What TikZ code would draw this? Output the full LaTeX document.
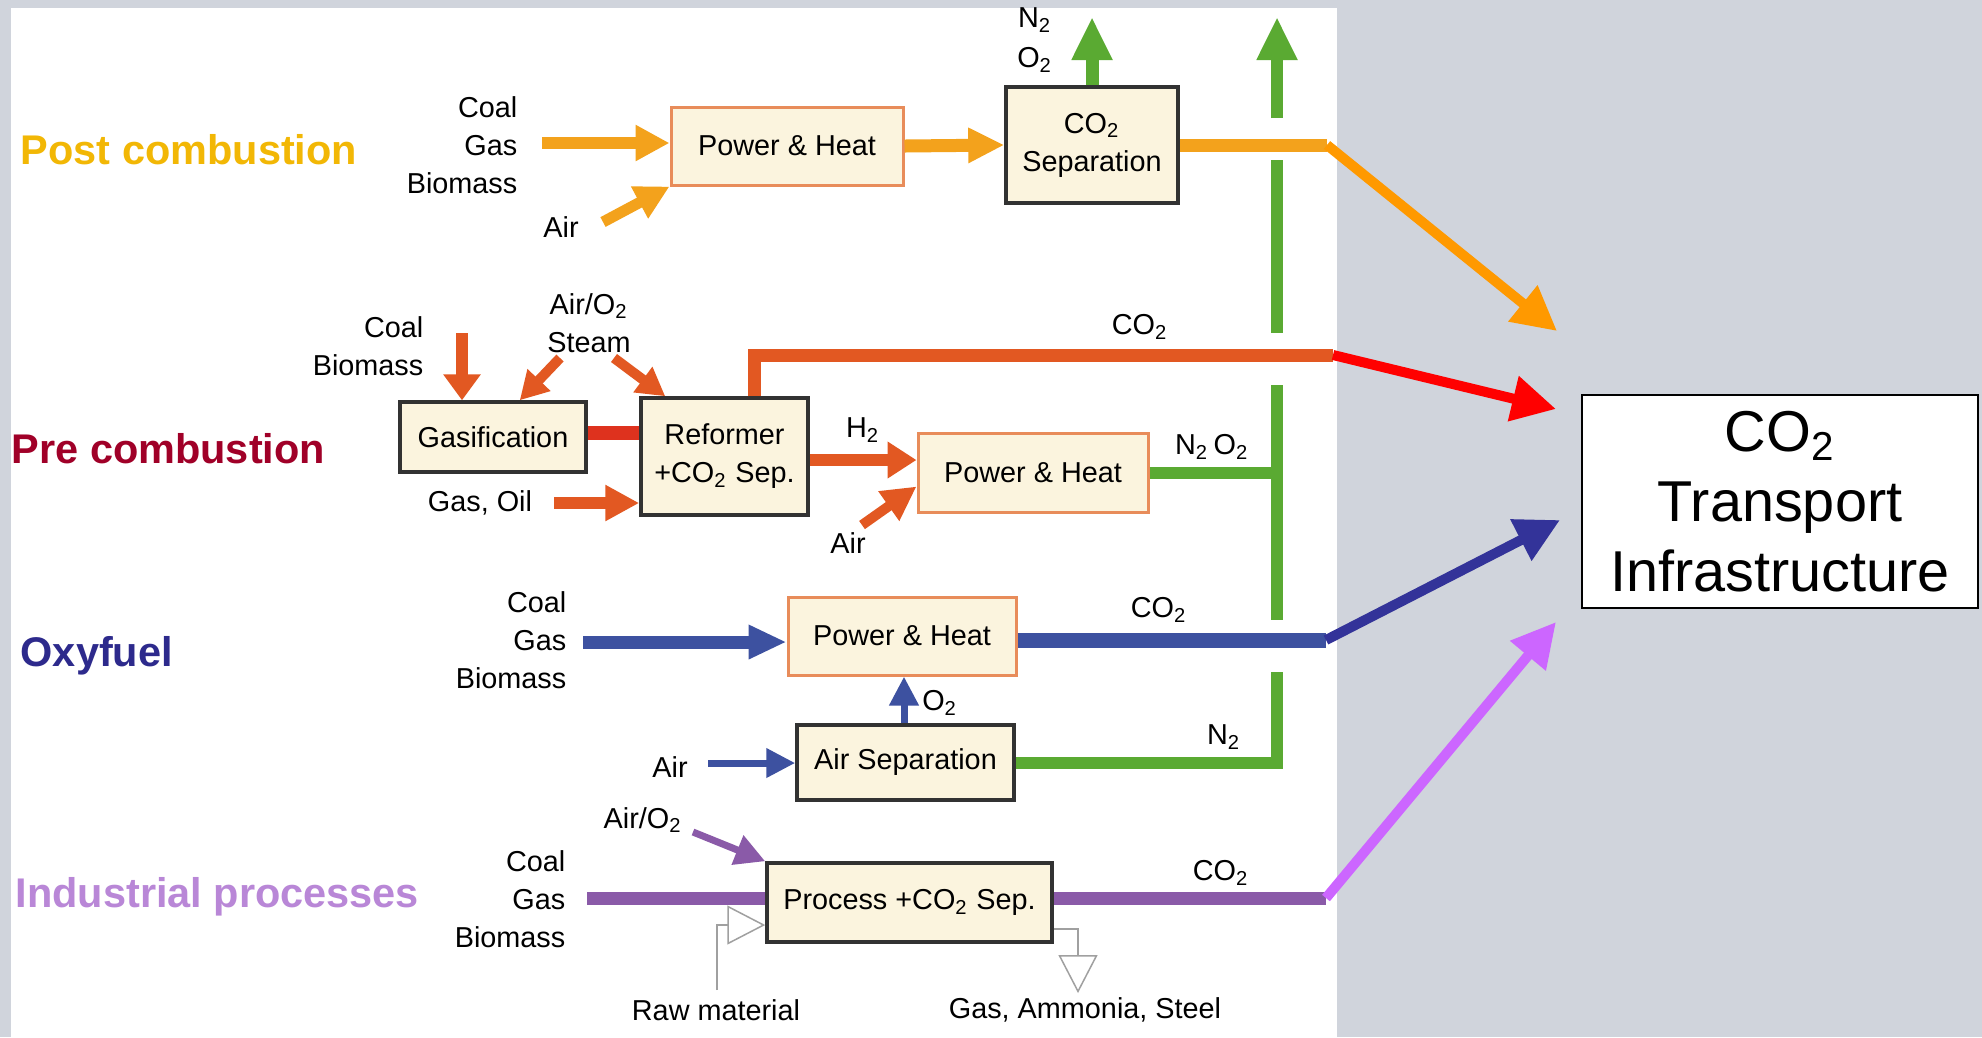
\documentclass[tikz,border=0pt]{standalone}
\usepackage{fontspec}
\setmainfont{Liberation Sans}
\usepackage{tikz}
\usetikzlibrary{arrows.meta,positioning,calc}

\definecolor{bggray}{RGB}{208,212,220}
\definecolor{boxfill}{RGB}{251,244,222}
\definecolor{boxorange}{RGB}{232,140,90}
\definecolor{boxdark}{RGB}{50,50,50}
\definecolor{postorg}{RGB}{243,162,28}
\definecolor{diagorange}{RGB}{255,153,0}
\definecolor{prered}{RGB}{226,88,34}
\definecolor{barred}{RGB}{222,50,30}
\definecolor{diagred}{RGB}{255,0,0}
\definecolor{oxyblue}{RGB}{61,81,160}
\definecolor{diagblue}{RGB}{51,51,153}
\definecolor{indpurple}{RGB}{138,90,168}
\definecolor{diagviolet}{RGB}{204,102,255}
\definecolor{gasgreen}{RGB}{90,170,50}
\definecolor{pipegray}{RGB}{160,160,160}
\definecolor{postlab}{RGB}{242,183,5}
\definecolor{prelab}{RGB}{160,0,40}
\definecolor{oxylab}{RGB}{45,42,140}
\definecolor{indlab}{RGB}{185,135,215}

\begin{document}
\begin{tikzpicture}[
    x=0.1mm, y=-0.1mm,
    pbox/.style={rectangle, draw=boxorange, fill=boxfill, line width=0.3mm,
                 inner sep=0pt, align=center,
                 font=\fontsize{8.2}{10.8}\selectfont},
    sbox/.style={rectangle, draw=boxdark, fill=boxfill, line width=0.35mm,
                 inner sep=0pt, align=center,
                 font=\fontsize{8.2}{10.8}\selectfont},
    lab/.style={inner sep=0pt, align=center,
                font=\fontsize{8.2}{10.8}\selectfont},
    cat/.style={anchor=west, inner sep=0pt,
                font=\fontsize{11.8}{14}\selectfont\bfseries},
    arr/.style={line width=1.2mm, -{Triangle[length=3.4mm, width=3.4mm]}},
    slim/.style={line width=0.7mm, -{Triangle[length=2.9mm, width=2.8mm]}},
    diag/.style={line width=1.0mm, -{Triangle[length=4.4mm, width=4.4mm]}},
    pipe/.style={line width=1.3mm},
    gline/.style={draw=gasgreen, line width=1.2mm},
    vent/.style={-{Triangle[length=4.3mm, width=3.8mm]}},
    hollow/.style={draw=pipegray, line width=0.15mm,
                   -{Triangle[open, length=3.8mm, width=3.9mm]}}
  ]
  \useasboundingbox (0,0) rectangle (1982,1037);
  \fill[bggray] (0,0) rectangle (1982,1037);
  \fill[white] (11,8) rectangle (1337,1037);

  \node[cat, text=postlab] (post) at (20,150) {Post combustion};
  \node[cat, text=prelab] (pre) at (11,449) {Pre combustion};
  \node[cat, text=oxylab] (oxy) at (20,656) {Oxyfuel};
  \node[cat, text=indlab] (ind) at (15,897) {Industrial processes};

  \node[pbox, minimum width=23.2mm, minimum height=7.8mm] (ph1) at (787,146) {Power \& Heat};
  \node[sbox, minimum width=17.2mm, minimum height=11.6mm] (cosep) at (1092,145) {CO\textsubscript{2}\\Separation};
  \node[sbox, minimum width=18.6mm, minimum height=7mm] (gasif) at (493,437) {Gasification};
  \node[sbox, minimum width=16.7mm, minimum height=11.7mm] (reform) at (724.5,456.5) {Reformer\\+CO\textsubscript{2} Sep.};
  \node[pbox, minimum width=23mm, minimum height=7.9mm] (ph2) at (1033,472.5) {Power \& Heat};
  \node[pbox, minimum width=22.8mm, minimum height=7.8mm] (ph3) at (902,636) {Power \& Heat};
  \node[sbox, minimum width=21.7mm, minimum height=7.5mm] (airsep) at (905.5,762.5) {Air Separation};
  \node[sbox, minimum width=28.5mm, minimum height=7.9mm] (proc) at (909.5,902.5) {Process +CO\textsubscript{2} Sep.};
  \node[draw=black, fill=white, line width=0.2mm, minimum width=39.6mm, minimum height=21.3mm,
        inner sep=0pt, align=center, font=\fontsize{16.4}{19.9}\selectfont]
        (trans) at (1780,501.5) {CO\textsubscript{2}\\Transport\\Infrastructure};

  \node[lab, align=right, anchor=east] (fuel1) at (518,145) {Coal\\Gas\\Biomass};
  \node[lab] (airlab1) at (561,227) {Air};
  \node[lab, font=\fontsize{8.2}{11.4}\selectfont] (ventlab) at (1035,40) {N\textsubscript{2}\\O\textsubscript{2}};

  \node[lab, align=right, anchor=east] (fuel2) at (424,346) {Coal\\Biomass};
  \node[lab] (steamlab) at (589,323) {Air/O\textsubscript{2}\\Steam};
  \node[lab] (oillab) at (480,503) {Gas, Oil};
  \node[lab] (co2lab2) at (1140,327) {CO\textsubscript{2}};
  \node[lab] (h2lab) at (863,430) {H\textsubscript{2}};
  \node[lab] (airlab2) at (848,543) {Air};
  \node[lab] (noxlab) at (1212,447) {N\textsubscript{2}\,O\textsubscript{2}};

  \node[lab, align=right, anchor=east] (fuel3) at (567,640) {Coal\\Gas\\Biomass};
  \node[lab] (co2lab3) at (1159,610) {CO\textsubscript{2}};
  \node[lab] (o2lab) at (940,703) {O\textsubscript{2}};
  \node[lab] (airlab3) at (670,767) {Air};
  \node[lab] (n2lab) at (1224,737) {N\textsubscript{2}};

  \node[lab, align=right, anchor=east] (fuel4) at (566,899) {Coal\\Gas\\Biomass};
  \node[lab] (co2lab4) at (1221,873) {CO\textsubscript{2}};
  \node[lab] (oxlab4) at (643,820) {Air/O\textsubscript{2}};
  \node[lab] (rawlab) at (716,1010) {Raw material};
  \node[lab] (prodlab) at (1085,1010) {Gas, Ammonia, Steel};

  \coordinate (in1) at (542,143);
  \coordinate (air1) at (603,222);
  \coordinate (ventA) at (1092,17);
  \coordinate (k1) at (1327,145);
  \coordinate (t1) at (1557,331);
  \coordinate (cbin) at (462,333);
  \coordinate (st1) at (560,358);
  \coordinate (st2) at (614,358);
  \coordinate (oilin) at (554,503);
  \coordinate (k2) at (1333,355);
  \coordinate (t2) at (1556,409);
  \coordinate (air2) at (862,525);
  \coordinate (in3) at (583,642);
  \coordinate (k3) at (1326,640);
  \coordinate (t3) at (1560,520);
  \coordinate (air3) at (708,763);
  \coordinate (o2x) at (904,700);
  \coordinate (in4) at (587,898);
  \coordinate (k4) at (1326,898);
  \coordinate (t4) at (1556,622);
  \coordinate (air4) at (693,832);
  \coordinate (rawin) at (717,990);
  \coordinate (rawjoin) at (717,925);
  \coordinate (outtip) at (1078,993);
  \coordinate (g0) at (1277,17);
  \coordinate (g1) at (1277,118);
  \coordinate (g2) at (1277,160);
  \coordinate (g3) at (1277,333);
  \coordinate (g4) at (1277,385);
  \coordinate (g5) at (1277,620);
  \coordinate (g6) at (1277,672);

  \draw[gline, vent] (g1) -- (g0);
  \draw[gline] (g2) -- (g3);
  \draw[gline] (g4) -- (g5);
  \draw[gline] (airsep.east) -| (g6);
  \draw[gline] (ph2.east) -- (ph2.east -| g4);
  \draw[gline, line width=1.3mm, vent] (cosep.north) -- (ventA);

  \draw[arr, postorg] (in1) -- (in1 -| ph1.west);
  \draw[arr, postorg, line width=1.1mm] (air1) -- (ph1.south west);
  \draw[arr, postorg, line width=1.3mm, -{Triangle[length=3.6mm, width=3.3mm]}] (ph1.east) -- (cosep.west);
  \draw[pipe, postorg] (cosep.east) -- (k1);
  \draw[diag, diagorange] (k1) -- (t1);

  \draw[arr, prered, -{Triangle[length=2.6mm, width=3.6mm]}] (cbin) -- (cbin |- gasif.north);
  \draw[arr, prered, line width=1.0mm, -{Triangle[length=2.8mm, width=3mm]}] (st1) -- ($(gasif.north east)+(-68,0)$);
  \draw[arr, prered, line width=1.0mm, -{Triangle[length=2.8mm, width=3mm]}] (st2) -- ($(reform.north west)+(26,0)$);
  \draw[barred, line width=1.4mm] (gasif.east |- 0,433) -- (reform.west |- 0,433);
  \draw[arr, prered] (oilin) -- (oilin -| reform.west);
  \draw[pipe, prered] ($(reform.north)+(30,0)$) |- (k2);
  \draw[diag, diagred] (k2) -- (t2);
  \draw[arr, prered, -{Triangle[length=2.9mm, width=3.5mm]}] (reform.east |- 0,460) -- (ph2.west |- 0,460);
  \draw[arr, prered, line width=1.0mm] (air2) -- ($(ph2.south west)+(0,-27)$);

  \draw[arr, oxyblue, line width=1.3mm, -{Triangle[length=3.8mm, width=3.2mm]}] (in3) -- (in3 -| ph3.west);
  \draw[pipe, oxyblue, line width=1.5mm] (ph3.east |- k3) -- (k3);
  \draw[diag, diagblue] (k3) -- (t3);
  \draw[slim, oxyblue] (o2x |- airsep.north) -- (o2x |- ph3.south);
  \draw[slim, oxyblue] (air3) -- (air3 -| airsep.west);

  \draw[pipe, indpurple] (in4) -- (in4 -| proc.west);
  \draw[pipe, indpurple] (proc.east |- k4) -- (k4);
  \draw[diag, diagviolet] (k4) -- (t4);
  \draw[slim, indpurple, -{Triangle[length=3mm, width=3mm]}] (air4) -- (proc.north west);
  \draw[hollow] (rawin) -- (rawjoin) -- (rawjoin -| proc.west);
  \draw[hollow] ($(proc.south east)+(0,-15)$) -| (outtip);
\end{tikzpicture}
\end{document}
